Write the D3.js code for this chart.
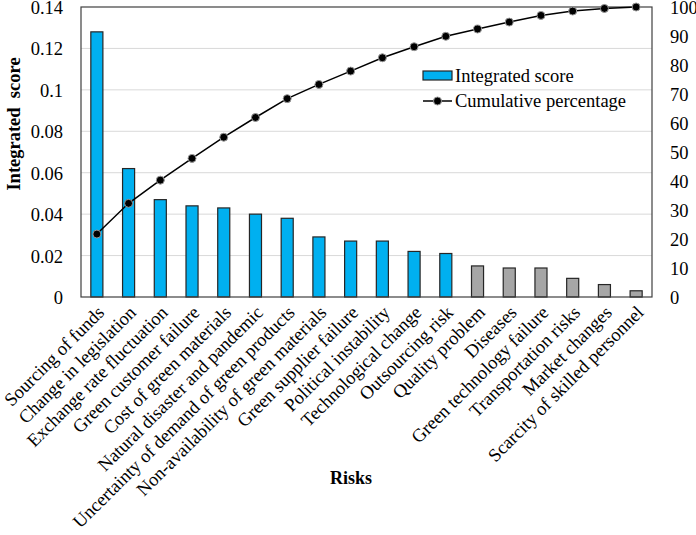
<!DOCTYPE html>
<html>
<head>
<meta charset="utf-8">
<script src="https://cdn.jsdelivr.net/npm/d3@7"></script>
</head>
<body style="margin:0">
<svg></svg>
<script>
const risks = ['Sourcing of funds', 'Change in legislation', 'Exchange rate fluctuation', 'Green customer failure',
  'Cost of green materials', 'Natural disaster and pandemic', 'Uncertainty of demand of green products',
  'Non-availability of green materials', 'Green supplier failure', 'Political instability', 'Technological change',
  'Outsourcing risk', 'Quality problem', 'Diseases', 'Green technology failure', 'Transportation risks',
  'Market changes', 'Scarcity of skilled personnel'];
const scores = [0.128, 0.062, 0.047, 0.044, 0.043, 0.040, 0.038, 0.029, 0.027, 0.027, 0.022, 0.021,
  0.015, 0.014, 0.014, 0.009, 0.006, 0.003];
const cumulative = [21.7, 32.3, 40.3, 47.8, 55.1, 61.9, 68.4, 73.3, 77.9, 82.5, 86.3, 89.9,
  92.4, 94.8, 97.1, 98.6, 99.5, 100];
const leftTicks = [0, 0.02, 0.04, 0.06, 0.08, 0.1, 0.12, 0.14];
const rightTicks = [0, 10, 20, 30, 40, 50, 60, 70, 80, 90, 100];
const highlighted = 12; // first 12 risks drawn in blue

const width = 696;
const height = 535;
const margin = { top: 7, right: 44, bottom: 238, left: 81 };
const font = 'Liberation Serif, Times New Roman, serif';

const svg = d3.select('svg')
  .attr('width', width)
  .attr('height', height)
  .attr('font-family', font);

const x = d3.scaleBand()
  .domain(risks)
  .range([margin.left, width - margin.right])
  .paddingInner(0.62)
  .paddingOuter(0.31);

const y = d3.scaleLinear()
  .domain([0, 0.14])
  .range([height - margin.bottom, margin.top]);

const y2 = d3.scaleLinear()
  .domain([0, 100])
  .range([height - margin.bottom, margin.top]);

// gridlines
svg.append('g')
  .selectAll('line')
  .data(leftTicks.slice(1, -1))
  .enter()
  .append('line')
  .attr('x1', margin.left)
  .attr('x2', width - margin.right)
  .attr('y1', d => y(d))
  .attr('y2', d => y(d))
  .attr('stroke', '#d9d9d9')
  .attr('stroke-width', 1);

// bars
svg.append('g')
  .selectAll('rect')
  .data(risks)
  .enter()
  .append('rect')
  .attr('x', d => x(d))
  .attr('y', (d, i) => y(scores[i]))
  .attr('width', x.bandwidth())
  .attr('height', (d, i) => y(0) - y(scores[i]))
  .attr('fill', (d, i) => i < highlighted ? '#00b0f0' : '#a6a6a6')
  .attr('stroke', '#262626')
  .attr('stroke-width', 1.2);

// frame
svg.append('rect')
  .attr('x', margin.left)
  .attr('y', margin.top)
  .attr('width', width - margin.left - margin.right)
  .attr('height', height - margin.top - margin.bottom)
  .attr('fill', 'none')
  .attr('stroke', '#404040')
  .attr('stroke-width', 1.2);

// cumulative line
const line = d3.line()
  .x((d, i) => x(risks[i]) + x.bandwidth() / 2)
  .y(d => y2(d));

svg.append('path')
  .datum(cumulative)
  .attr('d', line)
  .attr('fill', 'none')
  .attr('stroke', '#000')
  .attr('stroke-width', 1.5);

svg.append('g')
  .selectAll('circle')
  .data(cumulative)
  .enter()
  .append('circle')
  .attr('cx', (d, i) => x(risks[i]) + x.bandwidth() / 2)
  .attr('cy', d => y2(d))
  .attr('r', 4)
  .attr('fill', '#000')
  .attr('stroke', '#999')
  .attr('stroke-width', 1);

// axes
const leftAxis = d3.axisLeft(y)
  .tickValues(leftTicks)
  .tickSize(0)
  .tickPadding(18)
  .tickFormat(d => d === 0 ? '0' : String(+d.toFixed(2)));

svg.append('g')
  .attr('transform', 'translate(' + margin.left + ',0)')
  .call(leftAxis)
  .attr('font-family', font)
  .attr('font-size', 18.5)
  .call(g => g.select('.domain').remove())
  .selectAll('text')
  .attr('dy', '0.35em')
  .attr('fill', '#000');

const rightAxis = d3.axisRight(y2)
  .tickValues(rightTicks)
  .tickSize(0)
  .tickPadding(18);

svg.append('g')
  .attr('transform', 'translate(' + (width - margin.right) + ',0)')
  .call(rightAxis)
  .attr('font-family', font)
  .attr('font-size', 18.5)
  .call(g => g.select('.domain').remove())
  .selectAll('text')
  .attr('dy', '0.35em')
  .attr('fill', '#000');

// category labels
svg.append('g')
  .selectAll('text')
  .data(risks)
  .enter()
  .append('text')
  .attr('transform', d => 'translate(' + (x(d) + x.bandwidth() / 2 + 4) + ',' + (y(0) + 12) + ') rotate(-45)')
  .attr('text-anchor', 'end')
  .attr('dy', '0.35em')
  .attr('font-size', 18.5)
  .text(d => d);

// axis titles
svg.append('text')
  .attr('transform', 'translate(20,124) rotate(-90)')
  .attr('text-anchor', 'middle')
  .attr('font-size', 18.5)
  .attr('font-weight', 'bold')
  .style('white-space', 'pre')
  .text('Integrated  score');

svg.append('text')
  .attr('x', 351)
  .attr('y', 484)
  .attr('text-anchor', 'middle')
  .attr('font-size', 18)
  .attr('font-weight', 'bold')
  .text('Risks');

// legend
const legend = svg.append('g').attr('transform', 'translate(423,71)');
legend.append('rect')
  .attr('width', 29)
  .attr('height', 9)
  .attr('fill', '#00b0f0')
  .attr('stroke', '#262626')
  .attr('stroke-width', 1.2);
legend.append('text')
  .attr('x', 32)
  .attr('y', 11)
  .attr('font-size', 18.5)
  .text('Integrated score');
legend.append('line')
  .attr('x1', 0)
  .attr('x2', 29)
  .attr('y1', 30)
  .attr('y2', 30)
  .attr('stroke', '#000')
  .attr('stroke-width', 1.5);
legend.append('circle')
  .attr('cx', 14.5)
  .attr('cy', 30)
  .attr('r', 4)
  .attr('fill', '#000')
  .attr('stroke', '#999');
legend.append('text')
  .attr('x', 32)
  .attr('y', 36)
  .attr('font-size', 18.5)
  .text('Cumulative percentage');
</script>
</body>
</html>
